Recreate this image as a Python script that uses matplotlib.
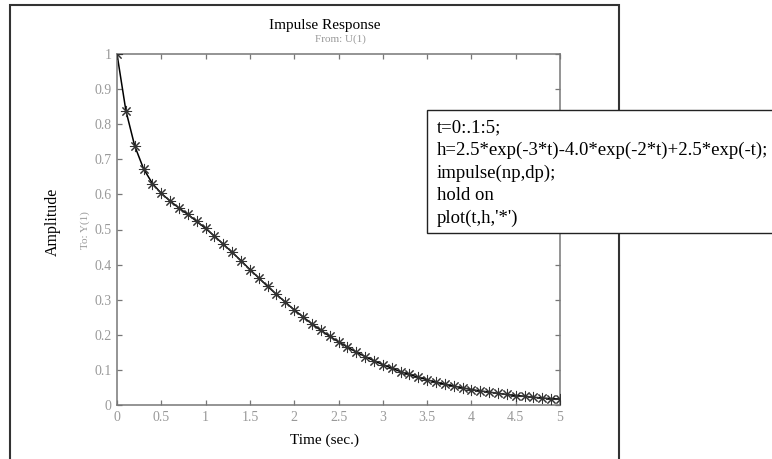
import matplotlib
matplotlib.use('Agg')
import matplotlib.pyplot as plt
from matplotlib.patches import Rectangle

# Punkty (gwiazdki co 0.1 s)
czas = [0.0, 0.1, 0.2, 0.3, 0.4, 0.5, 0.6, 0.7, 0.8, 0.9,
        1.0, 1.1, 1.2, 1.3, 1.4, 1.5, 1.6, 1.7, 1.8, 1.9,
        2.0, 2.1, 2.2, 2.3, 2.4, 2.5, 2.6, 2.7, 2.8, 2.9,
        3.0, 3.1, 3.2, 3.3, 3.4, 3.5, 3.6, 3.7, 3.8, 3.9,
        4.0, 4.1, 4.2, 4.3, 4.4, 4.5, 4.6, 4.7, 4.8, 4.9, 5.0]
amplituda = [1.000, 0.839, 0.738, 0.673, 0.631, 0.603, 0.581, 0.561, 0.543, 0.523,
             0.503, 0.481, 0.458, 0.435, 0.411, 0.386, 0.362, 0.338, 0.315, 0.293,
             0.271, 0.251, 0.231, 0.213, 0.196, 0.180, 0.165, 0.151, 0.138, 0.126,
             0.115, 0.105, 0.095, 0.087, 0.079, 0.072, 0.065, 0.059, 0.054, 0.049,
             0.044, 0.040, 0.037, 0.033, 0.030, 0.027, 0.025, 0.022, 0.020, 0.018, 0.017]

x_ticki = [0, 0.5, 1, 1.5, 2, 2.5, 3, 3.5, 4, 4.5, 5]
x_etykiety = ['0', '0.5', '1', '1.5', '2', '2.5', '3', '3.5', '4', '4.5', '5']
y_ticki = [0, 0.1, 0.2, 0.3, 0.4, 0.5, 0.6, 0.7, 0.8, 0.9, 1]
y_etykiety = ['0', '0.1', '0.2', '0.3', '0.4', '0.5', '0.6', '0.7', '0.8', '0.9', '1']

kod = ["t=0:.1:5;",
       "h=2.5*exp(-3*t)-4.0*exp(-2*t)+2.5*exp(-t);",
       "impulse(np,dp);",
       "hold on",
       "plot(t,h,'*')"]

plt.rcParams['font.family'] = ['Liberation Serif', 'DejaVu Serif']

W, H = 772, 459
fig = plt.figure(figsize=(W / 100, H / 100), dpi=100)

def px(x, y):
    return x / W, 1 - y / H

# zewnetrzna ramka
fig.patches.append(Rectangle(px(10, 470), 609 / W, 465 / H, transform=fig.transFigure,
                             fill=False, edgecolor='#333333', linewidth=1.5, zorder=0))

ax = fig.add_axes([117 / W, 1 - 405 / H, (560 - 117) / W, (405 - 54) / H])
ax.plot(czas, amplituda, color='black', linewidth=1.1, zorder=2)
# gwiazdka jak w MATLAB-ie ('*')
ax.plot(czas, amplituda, linestyle='none', marker=(8, 2, 0), markersize=8,
        markeredgecolor='#333333', markeredgewidth=0.75, zorder=3)

ax.set_xlim(0, 5)
ax.set_ylim(0, 1)
ax.set_xticks(x_ticki)
ax.set_xticklabels(x_etykiety)
ax.set_yticks(y_ticki)
ax.set_yticklabels(y_etykiety)
ax.tick_params(direction='in', length=3.5, width=0.9, colors='#777777',
               labelcolor='#999999', labelsize=10, top=True, right=True, pad=4)
for s in ax.spines.values():
    s.set_color('#777777')
    s.set_linewidth(1.1)

fig.text(325 / W, 1 - 25 / H, 'Impulse Response', ha='center', va='center',
         fontsize=11, color='black')
fig.text(340 / W, 1 - 39 / H, 'From: U(1)', ha='center', va='center',
         fontsize=8, color='#999999')
fig.text(53 / W, 1 - 222 / H, 'Amplitude', ha='center', va='center', rotation=90,
         fontsize=11.5, color='black')
fig.text(85 / W, 1 - 230 / H, 'To: Y(1)', ha='center', va='center', rotation=90,
         fontsize=8, color='#999999')
fig.text(325 / W, 1 - 440 / H, 'Time (sec.)', ha='center', va='center',
         fontsize=11, color='black')

# ramka z kodem
fig.patches.append(Rectangle(px(427, 233), (800 - 427) / W, (233 - 110) / H,
                             transform=fig.transFigure, facecolor='white',
                             edgecolor='#222222', linewidth=1.0, zorder=10))
for i, linia in enumerate(kod):
    fig.text(437 / W, 1 - (128 + 22.5 * i) / H, linia, ha='left', va='center',
             fontsize=13.5, color='black', zorder=11)

fig.savefig('out.png', dpi=100)
plt.close()
